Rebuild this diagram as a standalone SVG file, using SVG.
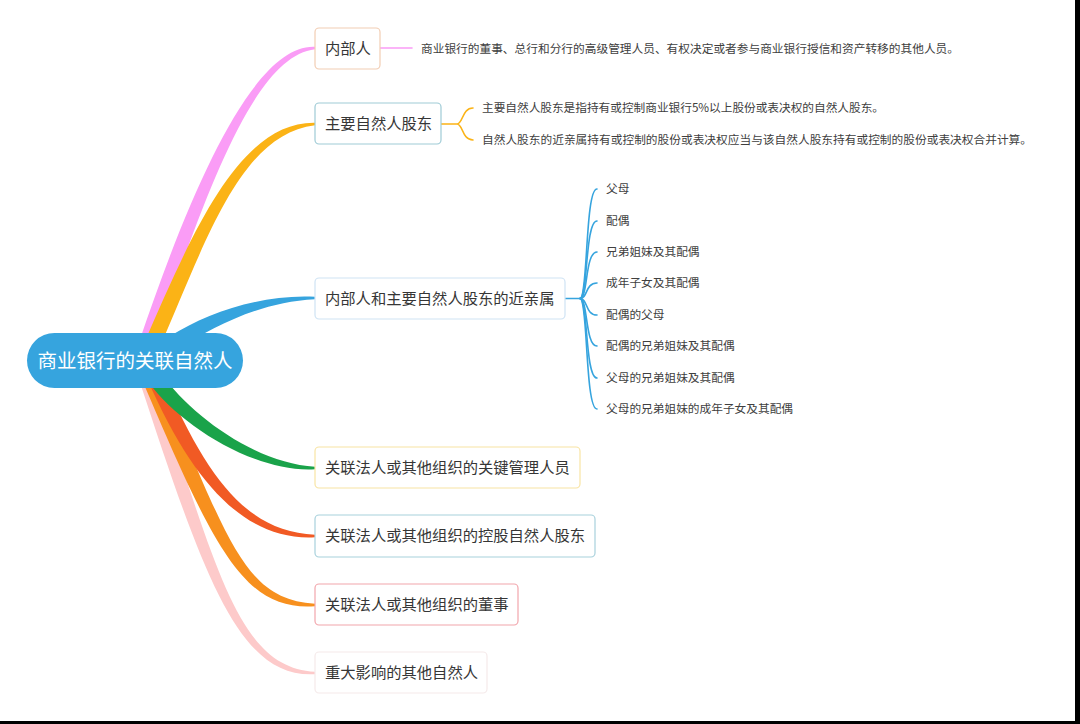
<svg xmlns="http://www.w3.org/2000/svg" width="1080" height="724" viewBox="0 0 1080 724">
<style>
text{font-family:"Noto Sans CJK SC","Noto Sans",sans-serif;}
.node rect{fill:#fff;stroke-width:1.2;}
.nt{font-size:15.3px;fill:#363636;}
.dt{font-size:11.7px;fill:#404040;}
.st{font-size:11.7px;fill:#404040;}
.thin{fill:none;stroke-width:1.6;stroke-linecap:round;}
</style>
<rect x="0" y="0" width="1080" height="724" fill="#fff"/>
<g id="connectors">
<path d="M139.3 380.2 C205.3 582.2 240 678.5 315 674.2 L315 671.8 C240 667.5 218.7 577.8 152.7 375.8 Z" fill="#fdcaca"/>
<path d="M142.6 381.1 C215.6 553.1 245 611 315 606.2 L315 603.8 C245 599 230.4 546.9 157.4 374.9 Z" fill="#f7901e"/>
<path d="M148.1 381 C193.1 483 245 541 315 537.2 L315 534.8 C245 531 206.9 477 161.9 375 Z" fill="#f15a24"/>
<path d="M148.9 382.4 C178.9 424.4 255 473 315 469.2 L315 466.8 C255 463 191.1 415.6 161.1 373.6 Z" fill="#1aa34a"/>
<path d="M153.1 347.4 C207.1 187.4 255.2 56 315 49.2 L315 46.8 C254.8 44 192.9 182.6 138.9 342.6 Z" fill="#fa9cf6"/>
<path d="M159.3 348.2 C207.3 238.2 240.3 134.5 315 125.2 L315 122.8 C239.7 121.5 192.7 231.8 144.7 341.8 Z" fill="#fbb316"/>
<path d="M179 348.4 C214 326.4 260 302 315 299.2 L315 296.8 C260 294 206 313.6 171 335.6 Z" fill="#36a4de"/>
<path class="thin" d="M380 48 H412" stroke="#fa9cf6"/>
<path class="thin" d="M441 124 H457 C463 124 462 108 473 108 M457 124 C463 124 462 140 473 140" stroke="#fbb316"/>
<g class="thin" stroke="#36a4de">
<path d="M565 298.5 H580"/>
<path d="M580 298.5 C588 298.5 585 189 597 189"/>
<path d="M580 298.5 C588 298.5 585 221 597 221"/>
<path d="M580 298.5 C588 298.5 585 252 597 252"/>
<path d="M580 298.5 C588 298.5 585 283 597 283"/>
<path d="M580 298.5 C588 298.5 585 315 597 315"/>
<path d="M580 298.5 C588 298.5 585 346 597 346"/>
<path d="M580 298.5 C588 298.5 585 378 597 378"/>
<path d="M580 298.5 C588 298.5 585 409 597 409"/>
</g>
</g>
<g id="root">
<rect x="27" y="333" width="216" height="55" rx="27.5" fill="#36a4de"/>
<text x="135" y="368" font-size="19.5" fill="#fff" text-anchor="middle">商业银行的关联自然人</text>
</g>
<g id="n1" class="node">
<rect x="315" y="28" width="65" height="41" rx="4" stroke="#f2cdb3"/>
<text class="nt" x="325" y="54">内部人</text>
</g>
<g id="n1d"><text class="dt" x="421" y="53" textLength="538" lengthAdjust="spacing">商业银行的董事、总行和分行的高级管理人员、有权决定或者参与商业银行授信和资产转移的其他人员。</text></g>
<g id="n2" class="node">
<rect x="315" y="103" width="126" height="41" rx="4" stroke="#9fcbd6"/>
<text class="nt" x="325" y="129">主要自然人股东</text>
</g>
<g id="n2a"><text class="dt" x="482" y="112" textLength="402" lengthAdjust="spacing">主要自然人股东是指持有或控制商业银行5%以上股份或表决权的自然人股东。</text></g>
<g id="n2b"><text class="dt" x="482" y="144" textLength="550" lengthAdjust="spacing">自然人股东的近亲属持有或控制的股份或表决权应当与该自然人股东持有或控制的股份或表决权合并计算。</text></g>
<g id="n3" class="node">
<rect x="315" y="278" width="250" height="41" rx="4" stroke="#cfe3f4"/>
<text class="nt" x="325" y="304">内部人和主要自然人股东的近亲属</text>
</g>
<g id="s1"><text class="st" x="606" y="193">父母</text></g>
<g id="s2"><text class="st" x="606" y="225">配偶</text></g>
<g id="s3"><text class="st" x="606" y="256">兄弟姐妹及其配偶</text></g>
<g id="s4"><text class="st" x="606" y="287">成年子女及其配偶</text></g>
<g id="s5"><text class="st" x="606" y="319">配偶的父母</text></g>
<g id="s6"><text class="st" x="606" y="350">配偶的兄弟姐妹及其配偶</text></g>
<g id="s7"><text class="st" x="606" y="382">父母的兄弟姐妹及其配偶</text></g>
<g id="s8"><text class="st" x="606" y="413">父母的兄弟姐妹的成年子女及其配偶</text></g>
<g id="n4" class="node">
<rect x="315" y="447" width="265" height="41" rx="4" stroke="#f8e4a4"/>
<text class="nt" x="325" y="473">关联法人或其他组织的关键管理人员</text>
</g>
<g id="n5" class="node">
<rect x="315" y="515" width="280" height="42" rx="4" stroke="#a8d1dc"/>
<text class="nt" x="325" y="541">关联法人或其他组织的控股自然人股东</text>
</g>
<g id="n6" class="node">
<rect x="315" y="584" width="203" height="41" rx="4" stroke="#f2a6ac"/>
<text class="nt" x="325" y="610">关联法人或其他组织的董事</text>
</g>
<g id="n7" class="node">
<rect x="315" y="652" width="172" height="41" rx="4" stroke="#f5eaea"/>
<text class="nt" x="325" y="678">重大影响的其他自然人</text>
</g>
<rect x="1075" y="0" width="5" height="724" fill="#000"/>
<rect x="0" y="721" width="1080" height="3" fill="#000"/>
</svg>
